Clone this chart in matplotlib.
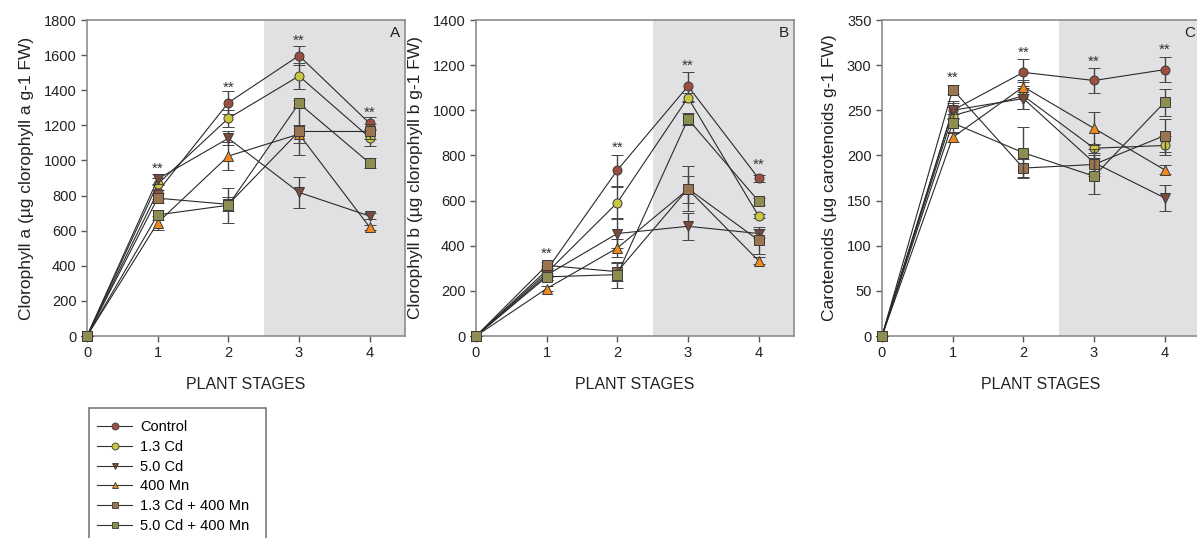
import matplotlib
matplotlib.use("Agg")
import matplotlib.pyplot as plt
from matplotlib.patches import Rectangle
from matplotlib.lines import Line2D

plt.rcParams["font.family"] = ["Liberation Sans", "DejaVu Sans"]

stages = [0, 1, 2, 3, 4]
series_names = ["Control", "1.3 Cd", "5.0 Cd", "400 Mn", "1.3 Cd + 400 Mn", "5.0 Cd + 400 Mn"]

# --- Clorofilla a ---
chla_vals = [
    [0, 822, 1329, 1597, 1211],
    [0, 866, 1240, 1481, 1130],
    [0, 894, 1126, 818, 683],
    [0, 645, 1025, 1150, 620],
    [0, 785, 750, 1165, 1165],
    [0, 690, 745, 1325, 985],
]
chla_err = [
    [0, 40, 65, 56, 35],
    [0, 35, 50, 75, 50],
    [0, 30, 40, 88, 15],
    [0, 40, 80, 50, 15],
    [0, 30, 40, 135, 40],
    [0, 30, 100, 20, 30],
]
chla_stars_x = [1, 2, 3, 4]
chla_stars_y = [978, 1440, 1705, 1293]

# --- Clorofilla b ---
chlb_vals = [
    [0, 291, 735, 1107, 698],
    [0, 280, 591, 1056, 531],
    [0, 270, 454, 486, 454],
    [0, 210, 390, 650, 333],
    [0, 313, 285, 653, 424],
    [0, 262, 272, 961, 597],
]
chlb_err = [
    [0, 20, 69, 64, 15],
    [0, 20, 70, 20, 10],
    [0, 20, 65, 60, 20],
    [0, 10, 40, 60, 15],
    [0, 15, 40, 100, 60],
    [0, 15, 58, 25, 15],
]
chlb_stars_x = [1, 2, 3, 4]
chlb_stars_y = [384, 853, 1215, 776]

# --- Carotenoidi ---
car_vals = [
    [0, 250, 292, 283, 295],
    [0, 244, 266, 208, 211],
    [0, 250, 263, 192, 153],
    [0, 220, 276, 230, 184],
    [0, 273, 186, 190, 222],
    [0, 236, 203, 177, 259],
]
car_err = [
    [0, 8, 15, 14, 14],
    [0, 10, 15, 5, 10],
    [0, 10, 12, 15, 14],
    [0, 5, 8, 18, 5],
    [0, 5, 10, 10, 18],
    [0, 10, 28, 20, 15],
]
car_stars_x = [1, 2, 3, 4]
car_stars_y = [291, 318, 308, 322]

colori = ["#9C4F3E", "#CBC640", "#7A4B3C", "#F08A1E", "#9A7550", "#8E8E52"]
marker = ["o", "o", "v", "^", "s", "s"]

pannelli = [
    (chla_vals, chla_err, chla_stars_x, chla_stars_y, 1800, 200,
     "Clorophyll a (µg clorophyll a g-1 FW)", "A"),
    (chlb_vals, chlb_err, chlb_stars_x, chlb_stars_y, 1400, 200,
     "Clorophyll b (µg clorophyll b g-1 FW)", "B"),
    (car_vals, car_err, car_stars_x, car_stars_y, 350, 50,
     "Carotenoids (µg carotenoids g-1 FW)", "C"),
]

fig = plt.figure(figsize=(11.97, 5.38), dpi=100)
lefts = [87, 476, 882]
W, H = 1197, 538
spine_col = "#8c8c8c"

for left, (vals, errs, sx, sy, ymax, ystep, ylab, lettera) in zip(lefts, pannelli):
    ax = fig.add_axes([left / W, 1 - 336 / H, 318 / W, 316 / H])
    ax.set_xlim(0, 4.5)
    ax.set_ylim(0, ymax)
    ax.axvspan(2.5, 4.5, color="#E1E1E4", zorder=0, lw=0)

    for i in range(len(series_names)):
        ax.errorbar(stages, vals[i], yerr=errs[i], color="#2a2a2a", lw=0.8,
                    ecolor="#444444", elinewidth=1.0, capsize=4.3, capthick=1.0,
                    marker=marker[i], markersize=6.5, markerfacecolor=colori[i],
                    markeredgecolor="#3a3a3a", markeredgewidth=0.7,
                    zorder=3 + i, clip_on=False)

    for x, y in zip(sx, sy):
        ax.annotate("**", (x, y), xytext=(0, -3), textcoords="offset points",
                    ha="center", va="center", fontsize=11, color="#333333")
    ax.text(4.36, ymax * 0.96, lettera, ha="center", va="center", fontsize=11, color="#222222")

    ax.set_xticks(stages)
    ax.set_yticks(range(0, ymax + 1, ystep))
    ax.tick_params(direction="out", length=4, width=1, colors="#555555",
                   labelcolor="#222222", labelsize=10.5)
    for sp in ax.spines.values():
        sp.set_color(spine_col)
        sp.set_linewidth(1.2)
    ax.set_ylabel(ylab, fontsize=12.5, color="#222222", labelpad=7)
    ax.set_xlabel("PLANT STAGES", fontsize=11.5, color="#222222", labelpad=12)

# legenda con riquadro che esce dal bordo
fig.patches.append(Rectangle((89 / W, -0.05), (266 - 89) / W, 1 - 408 / H + 0.05,
                             transform=fig.transFigure, fill=False,
                             edgecolor="#7a7a7a", lw=1.2))
handles = [Line2D([0], [0], color="#333333", lw=0.8, marker=marker[i], markersize=5,
                  markerfacecolor=colori[i], markeredgecolor="#3a3a3a",
                  markeredgewidth=0.6) for i in range(len(series_names))]
fig.legend(handles, series_names, loc="upper left", bbox_to_anchor=(97 / W, 1 - 420 / H),
           frameon=False, fontsize=10.5, handlelength=2.4, handletextpad=0.55,
           labelspacing=0.4, borderaxespad=0, borderpad=0)

fig.savefig("out.png", dpi=100)
